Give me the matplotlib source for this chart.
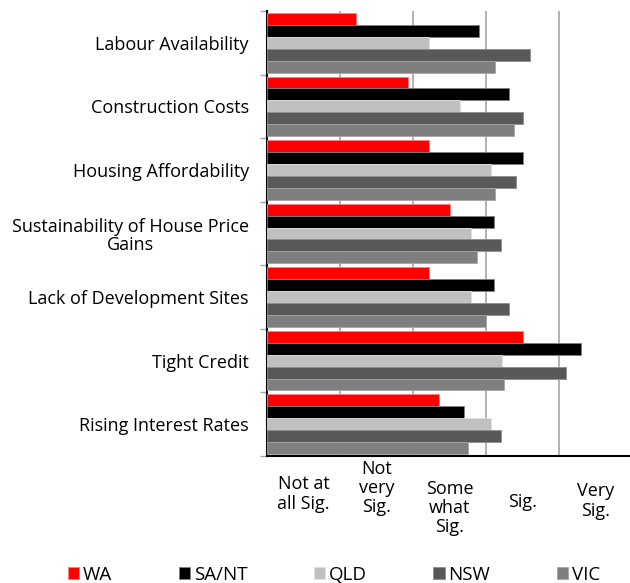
import matplotlib
matplotlib.use("Agg")
import matplotlib.pyplot as plt
import numpy as np

plt.rcParams['font.family'] = ['Open Sans', 'DejaVu Sans']

categories = ["Labour Availability", "Construction Costs", "Housing Affordability",
              "Sustainability of House Price\nGains", "Lack of Development Sites",
              "Tight Credit", "Rising Interest Rates"]
series_names = ["WA", "SA/NT", "QLD", "NSW", "VIC"]
wa   = [1.22, 1.93, 2.22, 2.50, 2.22, 3.51, 2.36]
sant = [2.90, 3.31, 3.51, 3.11, 3.11, 4.30, 2.70]
qld  = [2.22, 2.64, 3.07, 2.79, 2.79, 3.22, 3.07]
nsw  = [3.60, 3.51, 3.41, 3.20, 3.31, 4.10, 3.20]
vic  = [3.13, 3.38, 3.13, 2.88, 3.00, 3.25, 2.76]
scale_labels = ["Not at\nall Sig.", "Not\nvery\nSig.", "Some\nwhat\nSig.", "Sig.", "Very\nSig."]

colors = ["#FF0000", "#000000", "#C0C0C0", "#595959", "#7F7F7F"]
edges = ["#FF8080", "#7F7F7F", "#E0E0E0", "#8C8C8C", "#A6A6A6"]

fig = plt.figure(figsize=(6.30, 5.83), dpi=100)
ax = fig.add_axes([267/630, 1-456/583, 365/630, 445/583])

n = len(categories)
bar_h = 0.1875
group_off = 2/64
for s, (vals, c, ec) in enumerate(zip([wa, sant, qld, nsw, vic], colors, edges)):
    y = np.arange(n) + group_off + s*bar_h + bar_h/2
    ax.barh(y, vals, height=bar_h, color=c, edgecolor=ec, linewidth=0.6,
            label=series_names[s], zorder=3)

ax.set_ylim(n, 0)
ax.set_xlim(0, 5)

# grid
ax.set_xticks([1, 2, 3, 4, 5])
ax.set_xticklabels([])
ax.tick_params(axis='x', length=0)
ax.grid(axis='x', color="#A6A6A6", linewidth=1.2, zorder=0)
ax.set_axisbelow(True)

ax.set_yticks(np.arange(n) + 0.5)
ax.set_yticklabels(categories, fontsize=13, multialignment='center', linespacing=1.05)
ax.tick_params(axis='y', which='major', length=0, pad=13)
ax.set_yticks(np.arange(n + 1), minor=True)
ax.tick_params(axis='y', which='minor', length=5, color="#A6A6A6", width=1)

for sp in ['top', 'right']:
    ax.spines[sp].set_visible(False)
for sp in ['left', 'bottom']:
    ax.spines[sp].set_color('black')
    ax.spines[sp].set_linewidth(1.5)

# scale labels between gridlines
label_y = [494, 488, 508, 502, 501]
tr = matplotlib.transforms.blended_transform_factory(ax.transData, fig.transFigure)
for i, (lab, yy) in enumerate(zip(scale_labels, label_y)):
    ax.text(i + 0.5, 1 - yy/583, lab, transform=tr,
            ha='center', va='center', fontsize=13, multialignment='center', linespacing=1.08)

leg = fig.legend(loc='center', bbox_to_anchor=(0.53, 1 - 575/583), ncol=5, frameon=False,
                 fontsize=13.5, handlelength=0.6, handleheight=0.6, handletextpad=0.2,
                 columnspacing=3.55, borderaxespad=0)

fig.savefig("out.png", dpi=100)
